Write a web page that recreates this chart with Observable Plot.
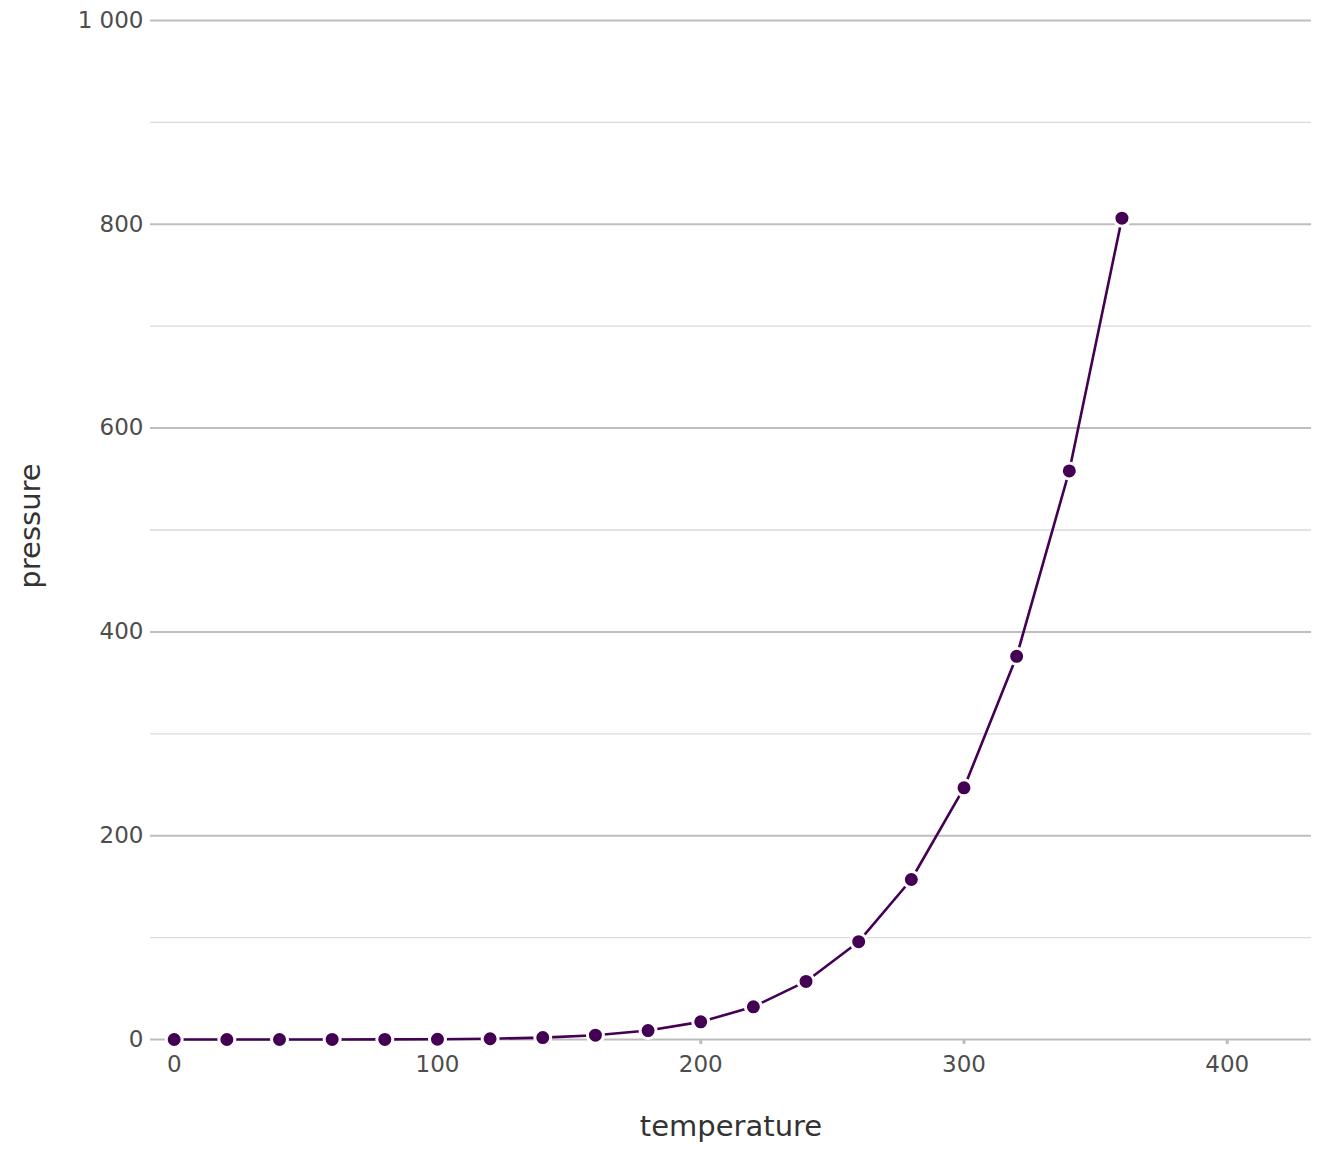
<!DOCTYPE html>
<html>
<head>
<meta charset="utf-8">
<script src="https://cdn.jsdelivr.net/npm/d3@7"></script>
<script src="https://cdn.jsdelivr.net/npm/@observablehq/plot@0.6"></script>
<style>
  html, body { margin: 0; padding: 0; background: #fff; }
  #chart svg { display: block; }
</style>
</head>
<body>
<div id="chart"></div>
<script>
const temperature = [0, 20, 40, 60, 80, 100, 120, 140, 160, 180, 200, 220, 240, 260, 280, 300, 320, 340, 360];
const pressure = [0.0002, 0.0012, 0.006, 0.03, 0.09, 0.27, 0.75, 1.85, 4.2, 8.8, 17.3, 32.1, 57, 96, 157, 247, 376, 558, 806];
const xTicks = [0, 100, 200, 300, 400];
const yMajorTicks = [0, 200, 400, 600, 800, 1000];
const yMinorTicks = [100, 300, 500, 700, 900];

const data = temperature.map((t, i) => ({temperature: t, pressure: pressure[i]}));
const fmt = d => d3.format(",")(d).replace(/,/g, " ");

const chart = Plot.plot({
  width: 1344,
  height: 1152,
  marginLeft: 150,
  marginRight: 33,
  marginTop: 20,
  marginBottom: 113,
  style: {fontFamily: "DejaVu Sans, sans-serif", background: "#fff"},
  x: {domain: [-9, 432]},
  y: {domain: [0, 1000]},
  marks: [
    Plot.gridY(yMinorTicks, {stroke: "#dadada", strokeOpacity: 1, strokeWidth: 1.3}),
    Plot.gridY(yMajorTicks, {stroke: "#bebebe", strokeOpacity: 1, strokeWidth: 2}),
    Plot.axisY(yMajorTicks, {tickSize: 0, tickPadding: 7, tickFormat: fmt, fontSize: 23, fill: "#4d4d4d", label: null}),
    Plot.axisX(xTicks, {tickSize: 5, tickPadding: 11, stroke: "#bebebe", strokeWidth: 3, fill: "#4d4d4d", fontSize: 23, label: null}),
    Plot.text(["temperature"], {frameAnchor: "bottom", lineAnchor: "middle", textAnchor: "middle", dy: 87, fontSize: 29, fill: "#333", text: d => d}),
    Plot.text(["pressure"], {frameAnchor: "left", lineAnchor: "middle", textAnchor: "middle", dx: -120, dy: -4, rotate: -90, fontSize: 29, fill: "#333", text: d => d}),
    Plot.line(data, {x: "temperature", y: "pressure", stroke: "#440154", strokeWidth: 2.6}),
    Plot.dot(data, {x: "temperature", y: "pressure", r: 8, fill: "#440154", stroke: "#fff", strokeWidth: 3})
  ]
});
document.getElementById("chart").appendChild(chart);
</script>
</body>
</html>
